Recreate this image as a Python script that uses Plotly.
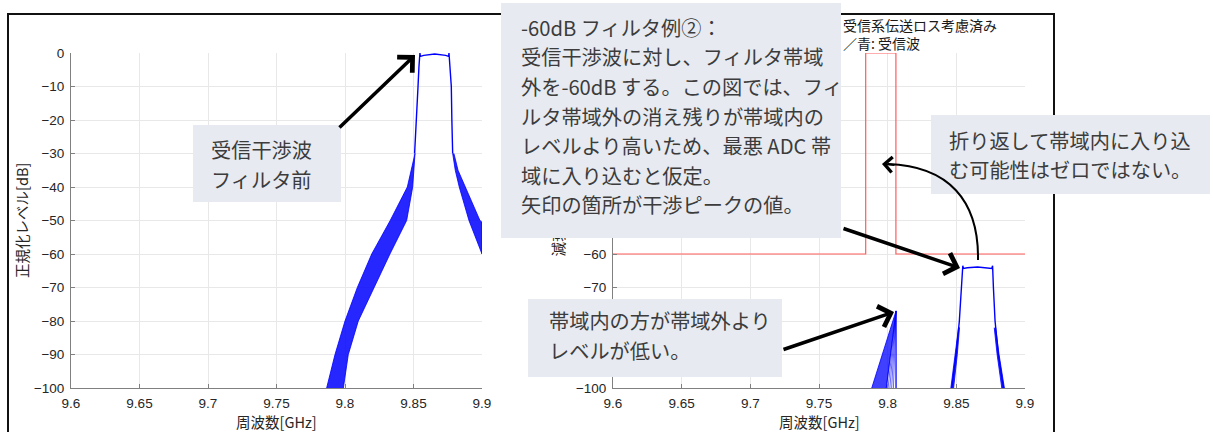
import plotly.graph_objects as go

W, H = 1213, 432

# ---- axis ticks ----
freq_ticks = [9.6, 9.65, 9.7, 9.75, 9.8, 9.85, 9.9]
freq_ticktext = ["9.6", "9.65", "9.7", "9.75", "9.8", "9.85", "9.9"]
level_ticks = [0, -10, -20, -30, -40, -50, -60, -70, -80, -90, -100]
level_ticktext = ["0" if v == 0 else "\u2212" + str(-v) for v in level_ticks]
# the right panel only labels the levels left uncovered by the callouts
level_ticktext_r = [t if v in (-60, -70, -100) else "" for v, t in zip(level_ticks, level_ticktext)]

# ---- left panel: received interference wave before the filter ----
# low-frequency skirt: outer (upper) and inner (lower) envelopes of the trace bundle
pre_lo_outer_f = [9.7866, 9.7927, 9.8000, 9.8090, 9.8195, 9.8330, 9.8455, 9.8506]
pre_lo_inner_f = [9.7988, 9.8024, 9.8097, 9.8214, 9.8328, 9.8450, 9.8494, 9.8511]
pre_lo_level = [-100, -90, -80, -70, -60, -50, -40, -30]
# high-frequency skirt envelopes
pre_hi_inner_f = [9.8786, 9.8805, 9.8834, 9.8905, 9.9000]
pre_hi_inner_l = [-30, -35, -40, -50, -60]
pre_hi_outer_f = [9.8795, 9.8825, 9.8876, 9.8985, 9.9000]
pre_hi_outer_l = [-30, -35, -40, -50, -50.5]
# passband trace
pre_pb_f = [9.8508, 9.8523, 9.8533, 9.8540, 9.8544, 9.8547, 9.8550, 9.8575, 9.8655,
            9.8735, 9.8756, 9.8759, 9.8762, 9.8767, 9.8776, 9.8780, 9.8786]
pre_pb_l = [-30, -20, -10, -4, -1.5, 0.0, -1.0, -0.7, -0.3,
            -0.7, -1.0, 0.0, -1.5, -4, -10, -20, -30]

# ---- right panel: after the -60 dB filter ----
filt_f = [9.6, 9.784, 9.784, 9.806, 9.806, 9.9]
filt_l = [-60, -60, 0, 0, -60, -60]

# residue inside the filter passband (bundle of skirt traces cut at the band edge)
res_fan_f = [9.7884, 9.8061, 9.7990]
res_fan_l = [-100, -77, -100]
res_base_f = [9.7990, 9.8003, 9.8016, 9.8029, 9.8042, 9.8061]
res_peak_f, res_peak_l = 9.8061, -77

# attenuated interference peak
rx_f = [9.8467, 9.8498, 9.8522, 9.8540, 9.8545, 9.8547, 9.8552, 9.8580, 9.8655,
        9.8730, 9.8758, 9.8764, 9.8767, 9.8770, 9.8782, 9.8806, 9.8843]
rx_l = [-100, -90, -80, -70, -65.5, -63.5, -64.3, -64.1, -63.9,
        -64.1, -64.3, -63.5, -65.5, -70, -80, -90, -100]
rx_lo_band_f = [9.8460, 9.8494, 9.8516, 9.8523, 9.8507, 9.8480]
rx_lo_band_l = [-100, -90, -82, -82, -90, -100]
rx_hi_band_f = [9.8776, 9.8797, 9.8831, 9.8850, 9.8811, 9.8786]
rx_hi_band_l = [-82, -90, -100, -100, -90, -82]

BLUE = "#0000ff"
BAND = "rgba(0,0,255,0.85)"

fig = go.Figure()


def band(xs, ys, xa, ya, fill=BAND):
    fig.add_trace(go.Scatter(x=xs, y=ys, xaxis=xa, yaxis=ya, mode="lines",
                             fill="toself", fillcolor=fill,
                             line=dict(color=BLUE, width=0.8),
                             hoverinfo="skip", showlegend=False))


def line(xs, ys, xa, ya, color=BLUE, width=1.2):
    fig.add_trace(go.Scatter(x=xs, y=ys, xaxis=xa, yaxis=ya, mode="lines",
                             line=dict(color=color, width=width),
                             hoverinfo="skip", showlegend=False))


# left panel
band(pre_lo_outer_f + pre_lo_inner_f[::-1], pre_lo_level + pre_lo_level[::-1], "x", "y")
band(pre_hi_inner_f + pre_hi_outer_f[::-1], pre_hi_inner_l + pre_hi_outer_l[::-1], "x", "y")
line(pre_pb_f, pre_pb_l, "x", "y", width=1.4)

# right panel
line(filt_f, filt_l, "x2", "y2", color="#ff5c5c", width=1.2)
band(res_fan_f, res_fan_l, "x2", "y2", fill="rgba(0,0,255,0.75)")
for bf in res_base_f:
    line([bf, res_peak_f], [-100, res_peak_l], "x2", "y2", color="rgba(0,0,255,0.75)", width=0.8)
line([res_peak_f, res_peak_f], [res_peak_l, -100], "x2", "y2", width=1.0)
line(rx_f, rx_l, "x2", "y2", width=1.4)
band(rx_lo_band_f, rx_lo_band_l, "x2", "y2")
band(rx_hi_band_f, rx_hi_band_l, "x2", "y2")


def px(x):
    return x / W


def py(y):
    return 1 - y / H


TICKFONT = dict(family="Liberation Sans, Arial, sans-serif", size=13.5, color="#262626")
AXC = "#808080"
GRID = "#e8e8e8"

xcommon = dict(range=[9.6, 9.9], tickvals=freq_ticks, ticktext=freq_ticktext,
               ticks="inside", ticklen=4, tickcolor=AXC, showline=True, linecolor=AXC,
               linewidth=1, showgrid=True, gridcolor=GRID, gridwidth=1, zeroline=False,
               tickfont=TICKFONT, fixedrange=True, automargin=False, ticklabelstandoff=3)
ycommon = dict(range=[-100, 0], tickvals=level_ticks,
               ticks="inside", ticklen=4, tickcolor=AXC, showline=True, linecolor=AXC,
               linewidth=1, showgrid=True, gridcolor=GRID, gridwidth=1, zeroline=False,
               tickfont=TICKFONT, fixedrange=True, automargin=False, ticklabelstandoff=3)

ydom = [py(388), py(53)]
fig.update_layout(
    width=W, height=H, autosize=False,
    margin=dict(l=0, r=0, t=0, b=0, pad=0, autoexpand=False),
    paper_bgcolor="white", plot_bgcolor="white",
    showlegend=False,
    xaxis=dict(domain=[px(71), px(482)], anchor="y", **xcommon),
    yaxis=dict(domain=ydom, anchor="x", ticktext=level_ticktext, **ycommon),
    xaxis2=dict(domain=[px(613), px(1025)], anchor="y2", **xcommon),
    yaxis2=dict(domain=ydom, anchor="x2", ticktext=level_ticktext_r, **ycommon),
)

JP = "Noto Sans CJK JP, sans-serif"
TXT = "#3c3c3c"
BOXC = "#e7ebf1"

shapes = []
# outer frame around both panels
shapes.append(dict(type="rect", xref="paper", yref="paper",
                   x0=px(8), x1=px(1054), y0=py(450), y1=py(14),
                   line=dict(color="#111111", width=2), fillcolor="rgba(0,0,0,0)",
                   layer="above"))
# callout boxes drawn as shapes
for (x0, y0, x1, y1) in [(193, 125, 341, 202), (528, 299, 782, 377), (931, 115, 1210, 194)]:
    shapes.append(dict(type="rect", xref="paper", yref="paper",
                       x0=px(x0), x1=px(x1), y0=py(y1), y1=py(y0),
                       line=dict(width=0), fillcolor=BOXC, layer="above"))
# curved arrow body
p0, c1, c2, p1 = (978, 260), (979, 200), (948, 166), (888, 164)
shapes.append(dict(type="path", xref="paper", yref="paper", layer="above",
                   path="M{},{} C{},{} {},{} {},{}".format(px(p0[0]), py(p0[1]), px(c1[0]), py(c1[1]),
                                                          px(c2[0]), py(c2[1]), px(p1[0]), py(p1[1])),
                   line=dict(color="black", width=2)))
fig.update_layout(shapes=shapes)

ann = []


def text(x, y, s, size=20.2, color=TXT, xanchor="left", yanchor="middle", angle=0, family=JP):
    ann.append(dict(x=px(x), y=py(y), xref="paper", yref="paper", text=s, showarrow=False,
                    xanchor=xanchor, yanchor=yanchor, textangle=angle,
                    font=dict(family=family, size=size, color=color)))


# axis titles
text(276.5, 421, "周波数[GHz]", size=14.5, color="#262626", xanchor="center")
text(819, 421, "周波数[GHz]", size=14.5, color="#262626", xanchor="center")
text(21.5, 220.5, "正規化レベル[dB]", size=14.5, color="#262626", xanchor="center", angle=-90)
text(557, 220.5, "減衰量[dB]", size=14.5, color="#262626", xanchor="center", angle=-90)
# right panel title (two lines, visible right-hand part)
text(841, 25, "受信系伝送ロス考慮済み", size=14, color="#1a1a1a")
text(841, 43, "／青: 受信波", size=14, color="#1a1a1a")

# main callout box (annotation so it sits over the panel title)
ann.append(dict(x=px(501), y=py(3), xref="paper", yref="paper", text=" ", showarrow=False,
                xanchor="left", yanchor="top", width=340, height=235, bgcolor=BOXC,
                borderpad=0, borderwidth=0))

box1_lines = ["-60dB フィルタ例②：",
              "受信干渉波に対し、フィルタ帯域",
              "外を-60dB する。この図では、フィ",
              "ルタ帯域外の消え残りが帯域内の",
              "レベルより高いため、最悪 ADC 帯",
              "域に入り込むと仮定。",
              "矢印の箇所が干渉ピークの値。"]
for i, s in enumerate(box1_lines):
    text(519, 27.5 + i * 29.5, s)
for i, s in enumerate(["受信干渉波", "フィルタ前"]):
    text(209, 149 + i * 30, s)
for i, s in enumerate(["折り返して帯域内に入り込", "む可能性はゼロではない。"]):
    text(947, 140 + i * 29, s)
for i, s in enumerate(["帯域内の方が帯域外より", "レベルが低い。"]):
    text(547, 320 + i * 30, s)


def arrow(hx, hy, tx, ty, width=3.5, size=1.2, head=4):
    ann.append(dict(x=px(hx), y=py(hy), xref="paper", yref="paper", text="",
                    showarrow=True, arrowhead=head, arrowsize=size, arrowwidth=width,
                    arrowcolor="black", ax=tx - hx, ay=ty - hy, standoff=0))


arrow(415, 55, 338, 129)
arrow(960, 268, 842, 228)
arrow(894, 312, 782, 350)
arrow(882, 164, 896, 165, width=2, size=1.5)

fig.update_layout(annotations=ann)
fig.write_html("out.html")
